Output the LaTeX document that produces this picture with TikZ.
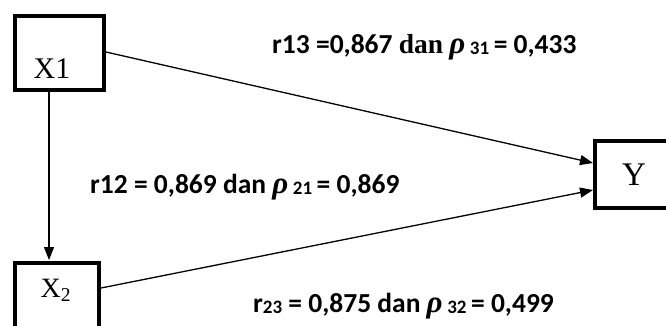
\documentclass[tikz,border=0pt]{standalone}
\usepackage{fontspec}
\setmainfont{Liberation Serif}
\newfontfamily\calb{Carlito}[BoldFont=* Bold]
\newfontfamily\tnr{Liberation Serif}
\usetikzlibrary{arrows.meta}
\tikzset{
  box/.style={draw=black,line width=4pt,fill=white},
  boxlabel/.style={font=\tnr\fontsize{30}{32}\selectfont,inner sep=0pt},
  lab/.style={font=\calb\bfseries\fontsize{27.5}{30}\selectfont,inner sep=0pt,anchor=base west},
  conn/.style={line width=1.3pt,-{Triangle[length=13pt,width=10pt]}}
}
\newcommand{\rhosym}{{\tnr\bfseries\itshape\fontsize{31}{31}\selectfont ρ}}
\newcommand{\smallsub}[1]{{\fontsize{19}{19}\selectfont\raisebox{-1.5pt}{#1}}}
\begin{document}
\begin{tikzpicture}[x=1pt,y=-1pt]
\useasboundingbox (0,0) rectangle (666,325);
% boxes
\draw[box] (15,16) rectangle (104,90);
\draw[box] (15,262.5) rectangle (99,335);
\draw[box] (595,141) rectangle (675,208);
% anchor coordinates
\coordinate (x1r) at (106,52);
\coordinate (x1b) at (49,92);
\coordinate (x2t) at (49,260);
\coordinate (x2r) at (101,288);
\coordinate (yl1) at (593,163);
\coordinate (yl2) at (593,190);
% texts in boxes
\node[boxlabel,anchor=base] (tx1) at (52,78) {X1};
\node[boxlabel,anchor=base,font=\tnr\fontsize{28}{30}\selectfont] (tx2) at (56,297) {X\textsubscript{2}};
\node[boxlabel,anchor=base,font=\tnr\fontsize{33}{36}\selectfont] (ty) at (634,185) {Y};
% connectors
\draw[conn] (x1b) -- (x2t);
\draw[conn] (x1r) -- (yl1);
\draw[conn] (x2r) -- (yl2);
% labels
\node[lab] (l1) at (272,53) {r13 =0,867 {\tnr\bfseries dan} \rhosym\,\smallsub{31}\,= 0,433};
\node[lab] (l2) at (90,193) {r12 = 0,869 dan \rhosym\,\smallsub{21}\,= 0,869};
\node[lab] (l3) at (253,312) {r\smallsub{23} = 0,875 dan \rhosym\,\smallsub{32}\,= 0,499};
\end{tikzpicture}
\end{document}
